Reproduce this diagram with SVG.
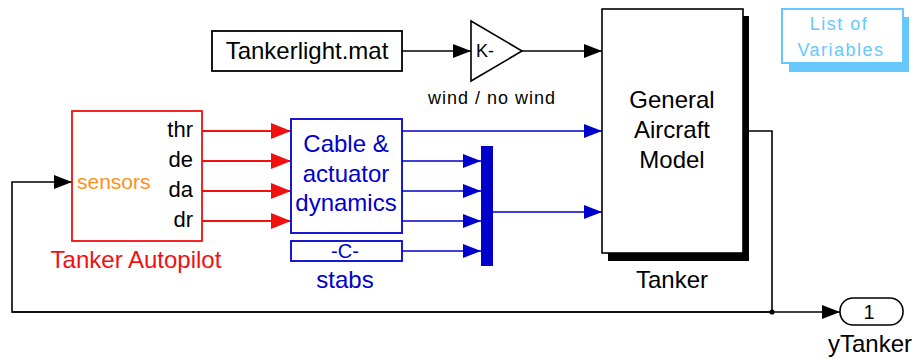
<svg xmlns="http://www.w3.org/2000/svg" width="914" height="358" viewBox="0 0 914 358">
<style>
text{font-family:"Liberation Sans",Arial,sans-serif;}
.blk{fill:none;stroke:#000;stroke-width:1.6}
.red{fill:none;stroke:#f01010;stroke-width:2}
.blu{fill:none;stroke:#0000cc;stroke-width:1.6}
.t24{font-size:24px}
</style>
<defs>
<marker id="ab" viewBox="0 0 18 14" refX="18" refY="7" markerWidth="18" markerHeight="14" markerUnits="userSpaceOnUse" orient="auto"><path d="M0,0 L18,7 L0,14 Z" fill="#000"/></marker>
<marker id="ar" viewBox="0 0 20 16" refX="20" refY="8" markerWidth="20" markerHeight="16" markerUnits="userSpaceOnUse" orient="auto"><path d="M0,0 L20,8 L0,16 Z" fill="#f01010"/></marker>
<marker id="au" viewBox="0 0 18 14" refX="18" refY="7" markerWidth="18" markerHeight="14" markerUnits="userSpaceOnUse" orient="auto"><path d="M0,0 L18,7 L0,14 Z" fill="#0000cc"/></marker>
</defs>
<rect width="914" height="358" fill="#fff"/>

<g id="connectors">
<path class="blk" d="M402,51 H471" marker-end="url(#ab)"/>
<path class="blk" d="M522,51 H602" marker-end="url(#ab)"/>
<path class="blk" d="M748,131 H772 V312"/>
<path class="blk" d="M12,312 H840" marker-end="url(#ab)"/>
<path class="blk" d="M772,312 H12 V182 H72" marker-end="url(#ab)"/>
<circle cx="772" cy="312" r="2.6" fill="#000"/>
<path class="red" d="M202,131 H291" marker-end="url(#ar)"/>
<path class="red" d="M202,161 H291" marker-end="url(#ar)"/>
<path class="red" d="M202,191 H291" marker-end="url(#ar)"/>
<path class="red" d="M202,221 H291" marker-end="url(#ar)"/>
<path class="blu" d="M402,131 H602" marker-end="url(#au)"/>
<path class="blu" d="M402,161 H481" marker-end="url(#au)"/>
<path class="blu" d="M402,191 H481" marker-end="url(#au)"/>
<path class="blu" d="M402,221 H481" marker-end="url(#au)"/>
<path class="blu" d="M402,251 H481" marker-end="url(#au)"/>
<path class="blu" d="M493,212 H602" marker-end="url(#au)"/>
</g>

<g id="tankerlight">
<rect x="212" y="31" width="190" height="40" fill="#fff" stroke="#000" stroke-width="1.8"/>
<text x="307" y="59" class="t24" text-anchor="middle">Tankerlight.mat</text>
</g>

<g id="gain">
<path d="M471,21 L522,51 L471,81 Z" fill="#fff" stroke="#000" stroke-width="1.6"/>
<text x="476" y="57" font-size="18">K-</text>
<text x="492" y="104" font-size="18" letter-spacing="1" text-anchor="middle">wind / no wind</text>
</g>

<g id="tanker">
<rect x="608" y="16" width="141" height="245" fill="#000"/>
<rect x="602" y="9" width="141" height="244" fill="#fff" stroke="#000" stroke-width="1.6"/>
<text x="672" y="108" class="t24" text-anchor="middle">General</text>
<text x="672" y="138" class="t24" text-anchor="middle">Aircraft</text>
<text x="672" y="168" class="t24" text-anchor="middle">Model</text>
<text x="672" y="288" class="t24" text-anchor="middle">Tanker</text>
</g>

<g id="listvars">
<rect x="789" y="17" width="120" height="55" fill="#66c8ff"/>
<rect x="782" y="9" width="121" height="54" fill="#fff" stroke="#66c8ff" stroke-width="2"/>
<text x="839" y="30" font-size="18" letter-spacing="1.5" fill="#66c8ff" text-anchor="middle">List of</text>
<text x="841" y="56" font-size="18" letter-spacing="1.5" fill="#66c8ff" text-anchor="middle">Variables</text>
</g>

<g id="autopilot">
<rect x="72" y="111" width="130" height="130" fill="#fff" stroke="#f01010" stroke-width="1.8"/>
<text x="193" y="137" font-size="22" text-anchor="end">thr</text>
<text x="193" y="167" font-size="22" text-anchor="end">de</text>
<text x="193" y="197" font-size="22" text-anchor="end">da</text>
<text x="193" y="227" font-size="22" text-anchor="end">dr</text>
<text x="77" y="189" font-size="21" fill="#ff9020">sensors</text>
<text x="136" y="268" class="t24" fill="#f01010" text-anchor="middle">Tanker Autopilot</text>
</g>

<g id="cable">
<rect x="291" y="119" width="111" height="114" fill="#fff" stroke="#0000cc" stroke-width="1.8"/>
<text x="346" y="152" class="t24" fill="#0000cc" text-anchor="middle">Cable &amp;</text>
<text x="346" y="182" class="t24" fill="#0000cc" text-anchor="middle">actuator</text>
<text x="346" y="211" class="t24" fill="#0000cc" text-anchor="middle">dynamics</text>
</g>

<g id="stabs">
<rect x="291" y="241" width="111" height="20" fill="#fff" stroke="#0000cc" stroke-width="1.8"/>
<text x="345" y="258" font-size="20" fill="#0000cc" text-anchor="middle">-C-</text>
<text x="345" y="288" class="t24" fill="#0000cc" text-anchor="middle">stabs</text>
</g>

<g id="mux">
<rect x="481" y="146" width="12" height="120" fill="#0000cc"/>
</g>

<g id="ytanker">
<rect x="840" y="298" width="63" height="27" rx="13" ry="13" fill="#fff" stroke="#000" stroke-width="1.6"/>
<text x="869" y="319" font-size="20" text-anchor="middle">1</text>
<text x="870" y="352" class="t24" text-anchor="middle">yTanker</text>
</g>
</svg>
